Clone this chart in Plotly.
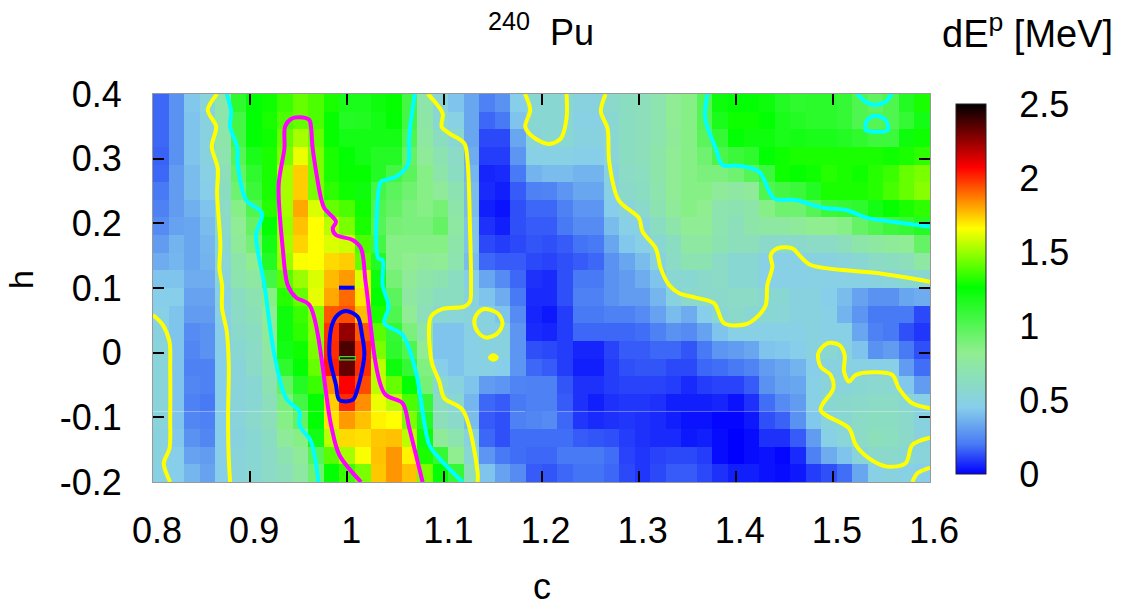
import plotly.graph_objects as go

# dE^p values, top row (h=0.4) to bottom (h=-0.2); columns c=0.8..1.6 split in three blocks
dep_left = [
[.17,.27,.43,.52,.72,1.12,1.25,1.28,1.35,1.42,1.38,1.3,1.18,1.18,1.22,1.27,1.05,.72],
[.17,.27,.42,.5,.72,1.05,1.25,1.3,1.38,1.42,1.38,1.27,1.15,1.16,1.2,1.25,1.05,.73],
[.17,.27,.42,.5,.72,1.05,1.25,1.28,1.42,1.52,1.42,1.27,1.2,1.2,1.2,1.2,1.02,.75],
[.16,.27,.42,.5,.7,1.0,1.18,1.3,1.45,1.63,1.45,1.3,1.25,1.2,1.15,1.15,.95,.78],
[.17,.3,.4,.48,.65,.95,1.12,1.3,1.52,1.74,1.45,1.3,1.27,1.27,1.15,1.05,.98,.85],
[.2,.3,.4,.45,.62,.92,1.08,1.3,1.52,1.74,1.45,1.33,1.28,1.22,1.05,.98,.92,.85],
[.22,.3,.36,.42,.6,.85,1.02,1.32,1.52,1.8,1.6,1.42,1.38,1.28,1.02,.95,.88,.85],
[.25,.32,.33,.4,.58,.8,.95,1.25,1.5,1.76,1.66,1.55,1.45,1.3,1.0,.9,.88,.88],
[.3,.37,.33,.38,.55,.78,.9,1.2,1.52,1.73,1.66,1.6,1.58,1.38,1.05,.85,.85,.85],
[.35,.38,.33,.37,.53,.72,.82,1.15,1.5,1.65,1.66,1.72,1.74,1.42,1.15,.85,.82,.78],
[.42,.42,.35,.35,.52,.7,.75,1.05,1.4,1.5,1.6,1.77,1.82,1.6,1.22,.9,.78,.72],
[.45,.45,.32,.32,.47,.62,.68,.85,1.32,1.42,1.62,1.8,1.9,1.7,1.25,.98,.75,.68],
[.47,.42,.3,.3,.47,.6,.66,.8,1.22,1.35,1.47,1.93,1.95,1.77,1.3,1.02,.8,.65],
[.5,.42,.25,.27,.45,.58,.62,.78,1.22,1.33,1.47,1.99,2.25,1.93,1.4,1.1,.88,.72],
[.52,.42,.24,.27,.45,.55,.6,.75,1.2,1.28,1.45,2.0,2.37,1.99,1.45,1.12,1.02,.8],
[.52,.42,.22,.22,.45,.52,.6,.72,1.12,1.25,1.42,2.02,2.33,2.0,1.55,1.22,1.1,.87],
[.52,.42,.24,.22,.45,.52,.55,.68,.95,1.15,1.35,1.84,2.07,1.95,1.55,1.42,1.25,.9],
[.52,.42,.22,.2,.45,.52,.55,.65,.88,1.05,1.27,1.74,2.0,1.84,1.63,1.55,1.38,1.1],
[.52,.42,.24,.22,.45,.52,.58,.65,.85,.95,1.25,1.7,1.82,1.76,1.68,1.66,1.45,1.15],
[.5,.43,.27,.24,.45,.5,.55,.62,.78,.85,1.2,1.55,1.72,1.71,1.75,1.76,1.55,1.22],
[.5,.45,.32,.3,.45,.52,.55,.6,.68,.78,1.0,1.4,1.52,1.65,1.76,1.83,1.68,1.3],
[.48,.45,.38,.32,.45,.52,.55,.6,.65,.75,.92,1.25,1.35,1.45,1.75,1.83,1.76,1.45],
]
dep_mid = [
[.52,.42,.33,.22,.27,.45,.55,.55,.55,.5,.5,.58,.62,.65,.7,.8],
[.55,.48,.33,.17,.2,.42,.55,.55,.55,.48,.48,.55,.62,.65,.7,.8],
[.62,.55,.33,.12,.12,.33,.52,.55,.55,.5,.5,.55,.62,.65,.7,.78],
[.68,.6,.35,.1,.1,.28,.47,.48,.48,.46,.46,.53,.62,.65,.72,.8],
[.72,.62,.38,.06,.07,.2,.37,.4,.4,.37,.37,.5,.6,.63,.72,.8],
[.78,.68,.4,.07,.05,.15,.22,.23,.28,.33,.33,.47,.58,.62,.7,.8],
[.9,.72,.4,.05,.03,.13,.17,.17,.22,.28,.28,.45,.52,.58,.68,.78],
[.95,.75,.42,.08,.05,.13,.15,.15,.2,.25,.25,.4,.47,.5,.62,.72],
[.85,.72,.42,.12,.1,.12,.14,.13,.15,.19,.2,.33,.43,.47,.55,.62],
[.8,.7,.4,.17,.15,.15,.12,.11,.13,.15,.17,.27,.33,.4,.5,.6],
[.68,.62,.45,.33,.25,.17,.08,.07,.13,.2,.2,.27,.3,.35,.42,.55],
[.62,.62,.5,.42,.35,.2,.07,.07,.13,.22,.22,.27,.3,.3,.38,.5],
[.55,.53,.52,.5,.42,.25,.06,.04,.1,.2,.2,.22,.22,.25,.32,.4],
[.42,.42,.48,.5,.5,.28,.07,.06,.1,.17,.17,.17,.17,.18,.22,.27],
[.42,.42,.47,.5,.5,.28,.13,.12,.1,.06,.06,.11,.15,.15,.17,.17],
[.45,.42,.47,.48,.45,.28,.17,.15,.1,.05,.05,.1,.13,.14,.14,.12],
[.55,.5,.42,.3,.28,.23,.22,.22,.14,.08,.08,.1,.11,.11,.11,.1],
[.62,.55,.38,.17,.15,.2,.22,.22,.15,.08,.05,.08,.09,.09,.08,.05],
[.65,.58,.4,.15,.13,.22,.24,.25,.17,.09,.07,.08,.09,.08,.07,.05],
[.78,.7,.5,.17,.13,.18,.18,.18,.18,.15,.14,.13,.1,.08,.07,.07],
[1.1,.82,.55,.28,.2,.18,.17,.17,.2,.2,.2,.18,.11,.09,.11,.12],
[1.25,1.1,.65,.42,.32,.25,.15,.14,.17,.19,.19,.17,.12,.09,.12,.15],
]
dep_right = [
[.85,1.0,1.22,1.25,1.25,1.22,1.15,1.12,1.13,1.13,1.1,1.02,.97,1.02,1.15,1.3],
[.85,1.0,1.18,1.28,1.28,1.25,1.18,1.15,1.13,1.13,1.1,1.02,1.0,1.02,1.1,1.2],
[.85,.98,1.1,1.25,1.22,1.22,1.18,1.2,1.18,1.18,1.15,1.12,1.07,1.07,1.22,1.28],
[.85,.92,1.03,1.08,1.12,1.25,1.28,1.3,1.3,1.3,1.3,1.3,1.3,1.28,1.3,1.33],
[.85,.88,.88,.92,1.0,1.07,1.28,1.27,1.28,1.32,1.3,1.28,1.32,1.35,1.42,1.45],
[.85,.85,.78,.75,.78,1.02,1.05,1.08,1.15,1.3,1.3,1.3,1.32,1.37,1.42,1.47],
[.85,.82,.7,.68,.72,.85,.92,.92,1.0,1.08,1.1,1.12,1.2,1.27,1.3,1.33],
[.8,.8,.7,.65,.72,.75,.75,.78,.82,.82,.85,.95,1.02,1.07,1.1,1.15],
[.75,.75,.68,.65,.65,.58,.58,.58,.6,.6,.65,.72,.75,.78,.8,.95],
[.68,.68,.6,.55,.55,.47,.47,.47,.5,.5,.52,.55,.6,.62,.65,.75],
[.55,.58,.6,.55,.55,.47,.47,.47,.48,.47,.47,.48,.5,.52,.55,.55],
[.58,.58,.58,.6,.6,.55,.55,.5,.5,.45,.4,.32,.27,.27,.33,.35],
[.35,.45,.55,.58,.55,.55,.53,.5,.5,.47,.37,.28,.2,.2,.2,.12],
[.25,.32,.42,.47,.48,.47,.47,.47,.5,.47,.47,.33,.22,.2,.13,.09],
[.14,.2,.28,.3,.33,.42,.43,.45,.5,.55,.5,.42,.27,.3,.2,.13],
[.12,.17,.18,.2,.23,.3,.33,.37,.45,.5,.5,.48,.47,.47,.3,.18],
[.07,.1,.11,.11,.15,.27,.32,.33,.47,.52,.52,.55,.56,.56,.43,.3],
[.05,.05,.06,.03,.08,.18,.25,.3,.47,.55,.57,.58,.6,.6,.55,.47],
[.03,.03,.01,.01,.04,.13,.16,.27,.43,.52,.55,.6,.62,.62,.58,.5],
[.04,.05,.02,.0,.02,.08,.08,.15,.3,.47,.53,.6,.65,.63,.58,.5],
[.12,.1,.02,.0,.02,.03,.01,.07,.22,.35,.42,.52,.58,.58,.55,.52],
[.15,.12,.08,.05,.05,.03,.02,.04,.1,.13,.18,.33,.48,.5,.48,.45],
]
z_rows = [a + b + d for a, b, d in zip(dep_left, dep_mid, dep_right)]
n_rows, n_cols = len(z_rows), len(z_rows[0])
c_cells = [0.8 + 0.8 * (i + 0.5) / n_cols for i in range(n_cols)]
h_cells = [0.4 - 0.6 * (j + 0.5) / n_rows for j in range(n_rows)]

yellow_lines = [
 [(.866,.4),(.8564,.3752),(.865,.3495),(.8605,.3185),(.8667,.285),(.866,.2464),(.8694,.1665),(.8684,.13),(.8711,.1047),(.8711,.0686),(.876,.0325),(.878,-.019),(.8773,-.1015),(.878,-.1633),(.8794,-.2)],
 [(.8,.0583),(.8101,.0428),(.817,.0171),(.8177,-.0242),(.8177,-.1015),(.817,-.1479),(.8111,-.1711),(.8177,-.2)],
 [(1.083,.4),(1.0982,.37),(1.0972,.3495),(1.1051,.3392),(1.1205,.3237),(1.1239,.2953),(1.1263,.1974),(1.1274,.1046),(1.1263,.0789),(1.1205,.0712),(1.0982,.0676),(1.0862,.0557),(1.0869,-.0139),(1.0948,-.0448),(1.1,-.0706),(1.1188,-.0886),(1.1342,-.184),(1.1342,-.2)],
 [(1.1411,.0676),(1.1548,.0609),(1.1599,.0454),(1.1548,.03),(1.1428,.0233),(1.1342,.0325),(1.1308,.048),(1.1342,.0609),(1.1411,.0676)],
 [(1.147,-.0077),(1.1503,-.004),(1.154,-.0077),(1.1503,-.011),(1.147,-.0077)],
 [(1.183,.4),(1.1884,.3752),(1.1833,.3495),(1.1908,.334),(1.208,.3227),(1.22,.3314),(1.2258,.3624),(1.2258,.4)],
 [(1.266,.4),(1.2611,.3727),(1.268,.3469),(1.2697,.2953),(1.2793,.2361),(1.3005,.2077),(1.304,.1871),(1.3177,.1613),(1.3228,.1304),(1.3314,.1046),(1.3417,.0918),(1.3588,.0851),(1.3777,.0763),(1.388,.0454),(1.4103,.0439),(1.4223,.0557),(1.4309,.0738),(1.4326,.1047),(1.4377,.133),(1.436,.151),(1.4429,.1613),(1.4583,.1613),(1.4652,.151),(1.4772,.1355),(1.5475,.1227),(1.6,.1098)],
 [(1.6,-.086),(1.5818,-.0783),(1.568,-.0551),(1.5612,-.0345),(1.544,-.0304),(1.5235,-.0345),(1.5166,-.0448),(1.5115,-.0293),(1.5121,-.0035),(1.5063,.0119),(1.4943,.0145),(1.485,-.001),(1.4874,-.0216),(1.4977,-.0345),(1.5005,-.0551),(1.4874,-.0886),(1.5166,-.1169),(1.5235,-.1427),(1.5372,-.1634),(1.556,-.1762),(1.5749,-.1711),(1.5818,-.1427),(1.6,-.1314)],
 [(1.5818,-.2),(1.587,-.1865),(1.6,-.1778)],
]
cyan_lines = [
 [(.876,.4),(.8804,.3727),(.8794,.3495),(.8866,.3185),(.8873,.2902),(.8958,.2361),(.9123,.2154),(.9061,.1819),(.9147,.1046),(.925,-.0035),(.937,-.0706),(.9507,-.0912),(.9507,-.1118),(.9627,-.1376),(.9703,-.2)],
 [(1.0695,.4),(1.0639,.3366),(1.0622,.2902),(1.0502,.2721),(1.0388,.267),(1.0347,.2644),(1.032,.1458),(1.0364,.1433),(1.0364,.1046),(1.0426,.0712),(1.0381,.0454),(1.057,.0274),(1.0707,-.0293),(1.0845,-.1427),(1.0948,-.1634),(1.1188,-.2)],
 [(1.3709,.4),(1.3685,.3624),(1.3794,.316),(1.3863,.2902),(1.4017,.2892),(1.424,.2799),(1.4394,.2386),(1.4617,.2361),(1.4892,.2242),(1.5132,.2206),(1.5372,.2077),(1.5612,.2026),(1.6,.1948)],
 [(1.5252,.4),(1.5337,.3881),(1.544,.383),(1.5543,.3881),(1.5605,.4)],
 [(1.544,.3665),(1.5543,.3598),(1.5567,.3443),(1.544,.3417),(1.5337,.3443),(1.5355,.3598),(1.544,.3665)],
]
magenta_lines = [
 [(1.0142,-.2),(.9919,-.1582),(.9833,-.1118),(.961,.0738),(.9473,.0851),(.9387,.1047),(.9336,.1613),(.9294,.2593),(.9353,.316),(.936,.3495),(.9421,.3613),(.9507,.3639),(.961,.3598),(.9627,.3495),(.9644,.316),(.973,.2386),(.9764,.2232),(.9884,.2026),(.985,.1922),(.9884,.1819),(1.0056,.1742),(1.0142,.1613),(1.0193,.1046),(1.0382,-.0628),(1.057,-.0783),(1.0639,-.1169),(1.0776,-.2)],
]
blue_lines = [
 [(.9987,.0645),(1.0107,.0557),(1.0152,.0274),(1.0176,-.0035),(1.0107,-.0551),(1.0056,-.0731),(.9919,-.0731),(.9884,-.0499),(.9816,-.0035),(.9843,.0428),(.9901,.0583),(.9987,.0645)],
 [(.9915,.1005),(1.0075,.1005)],
]
green_lines = [
 [(.9919,-.0061),(1.0083,-.0061),(1.0083,-.0113),(.9919,-.0113),(.9919,-.0061)],
]
seam_lines = [
 [(.8,-.0909),(1.183,-.0909)],
 [(1.216,-.0909),(1.6,-.0909)],
]

x_ticks = [0.8, 0.9, 1.0, 1.1, 1.2, 1.3, 1.4, 1.5, 1.6]
x_labels = ["0.8", "0.9", "1", "1.1", "1.2", "1.3", "1.4", "1.5", "1.6"]
y_ticks = [-0.2, -0.1, 0, 0.1, 0.2, 0.3, 0.4]
y_labels = ["-0.2", "-0.1", "0", "0.1", "0.2", "0.3", "0.4"]
cb_ticks = [0, 0.5, 1, 1.5, 2, 2.5]
cb_labels = ["0", "0.5", "1", "1.5", "2", "2.5"]

ZMAX = 2.5
stops = [(0, "rgb(0,0,255)"), (0.2, "rgb(72,122,245)"), (0.45, "rgb(135,206,235)"), (0.82, "rgb(144,238,144)"),
         (1.26, "rgb(0,255,0)"), (1.66, "rgb(255,255,0)"), (2.07, "rgb(255,0,0)"), (2.5, "rgb(0,0,0)")]
colorscale = [[v / ZMAX, col] for v, col in stops]

FONT = "Liberation Sans, Arial, sans-serif"
W, H = 1126, 608
L, R, T, B = 153, 930, 94, 482
cb_left, cb_right, cb_top, cb_bot = 956, 986, 104, 474
FS = 36

fig = go.Figure()
fig.add_trace(go.Heatmap(
    x=c_cells, y=h_cells, z=z_rows, zmin=0, zmax=ZMAX, colorscale=colorscale,
    hoverinfo="skip",
    colorbar=dict(
        x=(cb_left - L) / (R - L), xanchor="left", xpad=0,
        y=(B - cb_bot) / (B - T), yanchor="bottom", ypad=0,
        len=(cb_bot - cb_top) / (B - T), lenmode="fraction",
        thickness=cb_right - cb_left, thicknessmode="pixels",
        outlinecolor="#222", outlinewidth=1,
        tickvals=cb_ticks, ticktext=cb_labels, ticks="outside", ticklen=26,
        tickcolor="rgba(0,0,0,0)", tickfont=dict(family=FONT, size=FS, color="black"),
    ),
))

def add_lines(groups, color, width, smooth=True, opacity=1.0):
    for pts in groups:
        fig.add_trace(go.Scatter(
            x=[p[0] for p in pts], y=[p[1] for p in pts], mode="lines",
            line=dict(color=color, width=width, shape="spline" if smooth else "linear", smoothing=0.9),
            opacity=opacity, showlegend=False, hoverinfo="skip"))

add_lines(seam_lines, "white", 1, smooth=False, opacity=0.35)
add_lines(yellow_lines, "#ffff00", 4)
add_lines(cyan_lines, "#00ffff", 4)
add_lines(magenta_lines, "#ff00ff", 4)
add_lines(blue_lines, "#0000ff", 4)
add_lines(green_lines, "#30e030", 1.2, smooth=False)

axis_common = dict(ticks="inside", ticklen=11, tickwidth=1.5, tickcolor="black",
                   showgrid=False, zeroline=False, showline=True, linecolor="#999", linewidth=1,
                   mirror="ticks", tickfont=dict(family=FONT, size=FS, color="black"))
fig.update_xaxes(range=[0.8, 1.6], tickvals=x_ticks, ticktext=x_labels, ticklabelstandoff=17, ticklabelshift=4, **axis_common)
fig.update_yaxes(range=[-0.2, 0.4], tickvals=y_ticks, ticktext=y_labels, ticklabelstandoff=23, **axis_common)

# dash-dotted colour-box tick marks
shapes = []
for v in cb_ticks[1:-1]:
    yy = cb_bot - (cb_bot - cb_top) * v / ZMAX
    shapes.append(dict(type="line", xref="paper", yref="paper",
                       x0=(cb_left + 2 - L) / (R - L), x1=(cb_right - 2 - L) / (R - L),
                       y0=(B - yy) / (B - T), y1=(B - yy) / (B - T),
                       line=dict(color="black", width=1, dash="11px,2px,2px,2px,2px,2px,11px")))

def note(text, x, y, size=FS, **kw):
    return dict(text=text, xref="paper", yref="paper", x=(x - L) / (R - L), y=(B - y) / (B - T),
                showarrow=False, font=dict(family=FONT, size=size, color="black"),
                xanchor="center", yanchor="middle", **kw)

annotations = [
    note("<sup>240</sup>\u00a0 Pu", 541, 30),
    note("dE<sup>p</sup> [MeV]", 1027, 31, size=38),
    note("c", 542, 586),
    note("h", 21, 280, size=34, textangle=-90),
]

fig.update_layout(
    width=W, height=H, autosize=False, paper_bgcolor="white", plot_bgcolor="white",
    margin=dict(l=L, r=W - R, t=T, b=H - B), showlegend=False,
    shapes=shapes, annotations=annotations,
)
fig.write_html("out.html", config={"displayModeBar": False},
               post_script="document.body.style.margin='0';document.documentElement.style.overflow='hidden';")
